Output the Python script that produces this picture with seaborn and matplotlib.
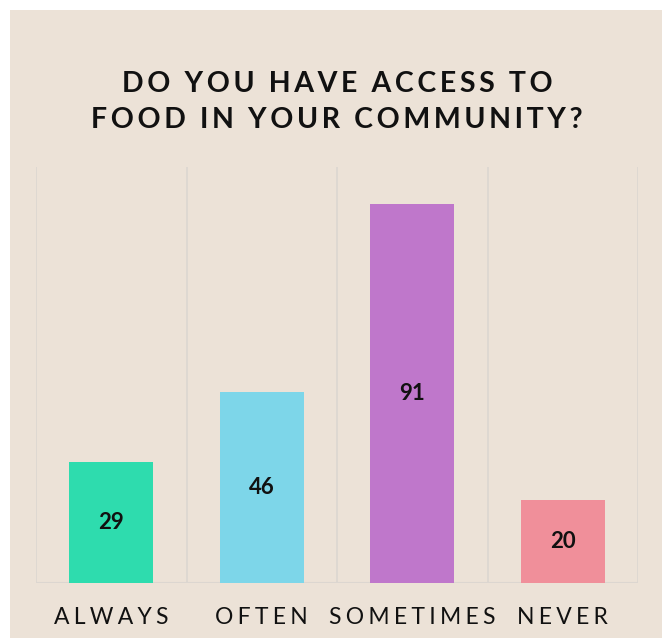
import matplotlib
matplotlib.use("Agg")
import matplotlib.pyplot as plt
import seaborn as sns
import pandas as pd
from matplotlib.patches import Rectangle

categories = ["ALWAYS", "OFTEN", "SOMETIMES", "NEVER"]
values = [29, 46, 91, 20]
colors = ["#2EDCAE", "#7DD6E9", "#BF77CB", "#F08F9A"]
title = "DO YOU HAVE ACCESS TO\nFOOD IN YOUR COMMUNITY?"

BG = "#ECE2D7"
GRID = "#DCD6D0"

sns.set_theme(style="white")
plt.rcParams["font.family"] = ["Lato", "DejaVu Sans"]

def spaced(s, sep="\u2009"):
    return "\n".join(sep.join(list(line)) for line in s.split("\n"))

df = pd.DataFrame({"cat": categories, "val": values})

fig = plt.figure(figsize=(6.62, 6.38), dpi=100)
fig.patch.set_facecolor("white")
fig.patches.append(Rectangle((10 / 662, 0), 1, 1 - 10 / 638, transform=fig.transFigure,
                             facecolor=BG, edgecolor="none", zorder=-10))

ax = fig.add_axes([36 / 662, 1 - 583 / 638, (638 - 36) / 662, (583 - 167) / 638])
ax.set_facecolor(BG)
sns.barplot(data=df, x="cat", y="val", hue="cat", palette=colors, width=0.56,
            legend=False, ax=ax, saturation=1, linewidth=0, edgecolor="none")
ax.set_xlim(-0.5, 3.5)
ax.set_ylim(0, 100)
for b in [-0.5, 0.5, 1.5, 2.5, 3.5]:
    ax.axvline(b, color=GRID, lw=1.2, zorder=0)
ax.axhline(0, color=GRID, lw=1.5, zorder=0)
for s in ax.spines.values():
    s.set_visible(False)
ax.set_yticks([])
ax.set_xlabel("")
ax.set_ylabel("")
ax.set_xticks(range(len(categories)))
ax.set_xticklabels([spaced(c, "\u2009\u200a") for c in categories], fontsize=16.5, color="#111111")
ax.tick_params(axis="x", length=0, pad=17)

for i, v in enumerate(values):
    ax.text(i, v / 2, str(v), ha="center", va="center", fontsize=16,
            fontweight="bold", color="#111111")

fig.text(337 / 662, 1 - 102 / 638, spaced(title, "\u2009"), ha="center", va="center",
         fontsize=20.5, fontweight="bold", color="#111111", linespacing=1.5)

fig.savefig("out.png", dpi=100, facecolor=fig.get_facecolor())
